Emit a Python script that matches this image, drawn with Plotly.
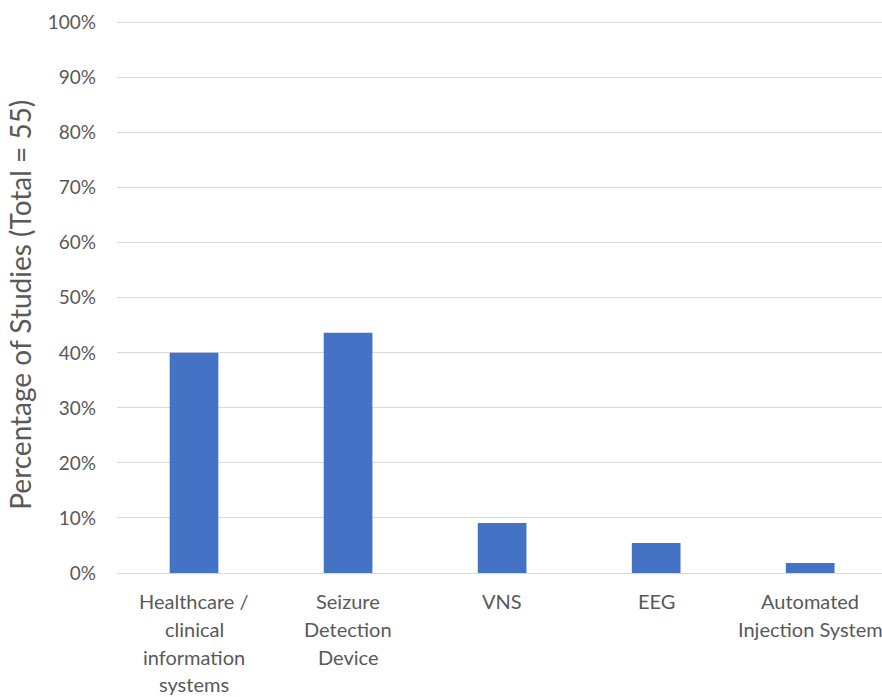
import plotly.graph_objects as go

# Technology categories (line breaks as they appear under the axis)
categories = [
    "Healthcare /\nclinical\ninformation\nsystems",
    "Seizure\nDetection\nDevice",
    "VNS",
    "EEG",
    "Automated\nInjection System",
]
study_counts = [22, 24, 5, 3, 1]
total_studies = 55
y_tick_values = [0, 0.1, 0.2, 0.3, 0.4, 0.5, 0.6, 0.7, 0.8, 0.9, 1.0]

shares = [c / total_studies for c in study_counts]
x_pos = list(range(len(categories)))

TEXT = "#595959"
FONT = "Lato"

fig = go.Figure(
    go.Bar(
        x=x_pos,
        y=shares,
        marker=dict(color="#4472C4", line=dict(width=0)),
        hoverinfo="skip",
    )
)

# Multi-line category labels with generous line spacing
annotations = []
for i, label in enumerate(categories):
    for j, line in enumerate(label.split("\n")):
        annotations.append(dict(
            x=i, y=0, xref="x", yref="y",
            text=line, showarrow=False,
            xanchor="center", yanchor="middle",
            yshift=-(28 + 27.8 * j),
            font=dict(family=FONT, size=20, color=TEXT),
        ))

# Y-axis title
annotations.append(dict(
    x=0, y=0.486, xref="paper", yref="paper",
    text="Percentage of Studies (Total = 55)",
    textangle=-90, showarrow=False,
    xanchor="center", yanchor="middle", xshift=-97,
    font=dict(family=FONT, size=28, color=TEXT),
))

fig.update_layout(
    width=882, height=697,
    margin=dict(l=117, r=0, t=21, b=124),
    paper_bgcolor="white", plot_bgcolor="white",
    bargap=0.684,
    showlegend=False,
    font=dict(family=FONT, color=TEXT),
    annotations=annotations,
    xaxis=dict(
        range=[-0.5, 4.466],
        showticklabels=False, showgrid=False, zeroline=False,
        showline=False, ticks="", fixedrange=True,
    ),
    yaxis=dict(
        range=[0, 1.003],
        tickvals=y_tick_values,
        tickformat=".0%",
        showgrid=True, gridcolor="#D9D9D9", gridwidth=1.3,
        zeroline=True, zerolinecolor="#D9D9D9", zerolinewidth=1.3,
        showline=False, ticks="",
        ticklabelstandoff=20,
        tickfont=dict(family=FONT, size=19, color=TEXT),
    ),
)

fig.write_html("out.html")
